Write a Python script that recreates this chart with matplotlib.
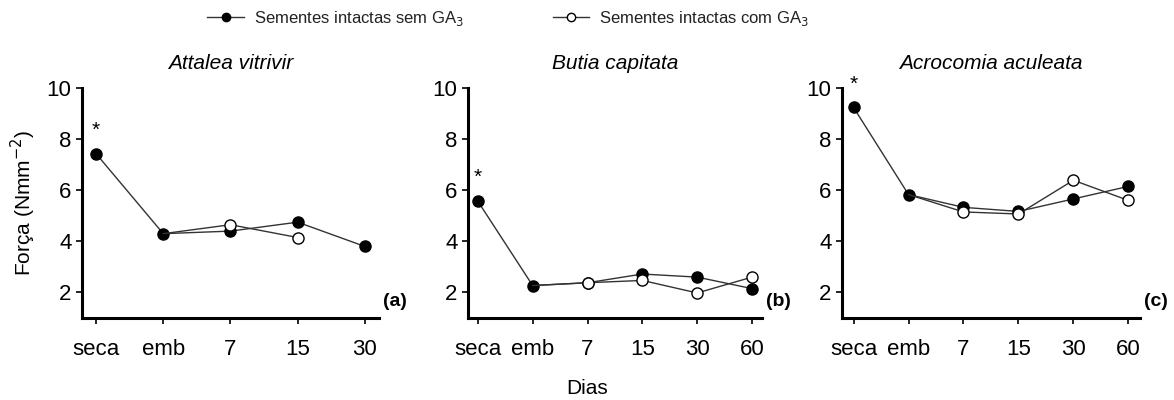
import matplotlib
matplotlib.use("Agg")
import matplotlib.pyplot as plt
import numpy as np
from matplotlib.lines import Line2D

plt.rcParams['font.family'] = ['Liberation Sans', 'DejaVu Sans']

# values (Força, Nmm^-2)
species = ["Attalea vitrivir", "Butia capitata", "Acrocomia aculeata"]
panel_tags = ["(a)", "(b)", "(c)"]
days_a = ["seca", "emb", "7", "15", "30"]
days_bc = ["seca", "emb", "7", "15", "30", "60"]

sem_a = [7.43, 4.30, 4.40, 4.75, 3.80]
com_a = [np.nan, 4.30, 4.65, 4.15, np.nan]

sem_b = [5.57, 2.27, 2.38, 2.72, 2.60, 2.15]
com_b = [np.nan, 2.27, 2.38, 2.47, 1.98, 2.60]

sem_c = [9.24, 5.83, 5.33, 5.17, 5.66, 6.15]
com_c = [np.nan, 5.83, 5.15, 5.07, 6.39, 5.60]

panels = [(days_a, sem_a, com_a), (days_bc, sem_b, com_b), (days_bc, sem_c, com_c)]

fig = plt.figure(figsize=(11.74, 4.0), dpi=100)
lefts = [0.0698, 0.3986, 0.7172]
widths = [0.253, 0.2504, 0.2538]

for i, (days, sem, com) in enumerate(panels):
    ax = fig.add_axes([lefts[i], 0.205, widths[i], 0.575])
    x = np.arange(len(days))
    ax.plot(x, sem, "-o", color="#333333", lw=1.0, mfc="black", mec="black",
            ms=8, zorder=3)
    # open series shares the "emb" point with the filled one (no own marker there)
    ax.plot(x, com, "-o", color="#333333", lw=1.0, mfc="white", mec="black",
            ms=8, mew=1.0, zorder=4, markevery=list(range(2, len(days))))
    ax.text(x[0], sem[0] + 0.55, "*", ha="center", va="bottom", fontsize=15,
            clip_on=False)
    pad = 0.21 if i != 1 else 0.18
    ax.set_xlim(-pad, len(days) - 1 + pad)
    ax.set_ylim(1, 10)
    ax.set_yticks([2, 4, 6, 8, 10])
    ax.set_xticks(x)
    ax.set_xticklabels(days)
    ax.tick_params(labelsize=16, length=4, width=1.2, direction="out")
    ax.tick_params(axis="x", pad=11)
    for s in ["top", "right"]:
        ax.spines[s].set_visible(False)
    for s in ["left", "bottom"]:
        ax.spines[s].set_linewidth(2.2)
    ax.set_title(species[i], fontsize=15, style="italic", pad=14)
    ax.text(1.015, 0.035, panel_tags[i], transform=ax.transAxes, fontsize=14,
            fontweight="bold", ha="left", va="bottom")
    if i == 0:
        ax.set_ylabel("Força (Nmm$^{-2}$)", fontsize=15, labelpad=6)

fig.text(0.5, 0.03, "Dias", ha="center", va="center", fontsize=15)

handles = [
    Line2D([], [], color="#333333", lw=1.0, marker="o", mfc="black", mec="black", ms=6),
    Line2D([], [], color="#333333", lw=1.0, marker="o", mfc="white", mec="black", ms=6),
]
leg = fig.legend(handles, ["Sementes intactas sem GA$_3$", "Sementes intactas com GA$_3$"],
                 loc="center", bbox_to_anchor=(0.433, 0.955), ncol=2, frameon=False,
                 fontsize=12, handlelength=2.2, columnspacing=5.3, handletextpad=0.6)
for t in leg.get_texts():
    t.set_color("#222222")

fig.savefig("out.png", dpi=100)
